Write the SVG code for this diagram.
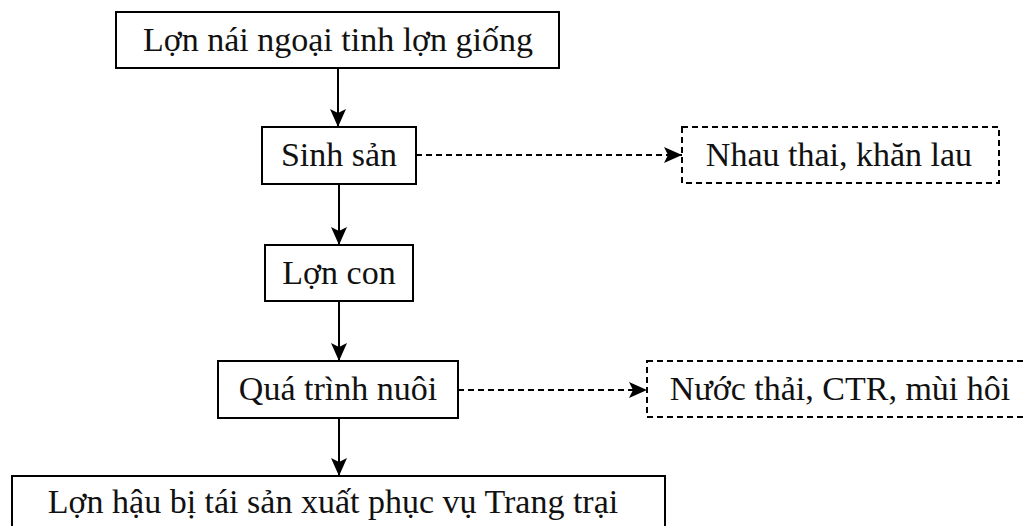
<svg xmlns="http://www.w3.org/2000/svg" width="1023" height="526" viewBox="0 0 1023 526">
<defs>
<marker id="ah" markerUnits="userSpaceOnUse" markerWidth="18" markerHeight="16" refX="18" refY="8" orient="auto" viewBox="0 0 18 16">
<path d="M0,0 L18,8 L0,16 L4,8 Z" fill="#000"/>
</marker>
<style>
.box{fill:#fff;stroke:#000;stroke-width:2}
.dbox{fill:#fff;stroke:#000;stroke-width:2;stroke-dasharray:6 4}
.t{font-family:"Liberation Serif","Times New Roman",serif;font-size:34px;fill:#111;text-anchor:middle}
.c{fill:none;stroke:#000;stroke-width:2;marker-end:url(#ah)}
.d{stroke-dasharray:6 4}
</style>
</defs>
<rect width="1023" height="526" fill="#fff"/>
<g id="connectors">
<path class="c" d="M338,68 V127"/>
<path class="c" d="M339,184 V245"/>
<path class="c" d="M339,301 V361"/>
<path class="c" d="M339,418 V476"/>
<path class="c d" d="M416,155 H682"/>
<path class="c d" d="M458,390 H647"/>
</g>
<g id="n1"><rect class="box" x="116" y="12" width="443" height="56"/><text class="t" x="338" y="51">Lợn nái ngoại tinh lợn giống</text></g>
<g id="n2"><rect class="box" x="262" y="127" width="154" height="57"/><text class="t" x="339" y="166">Sinh sản</text></g>
<g id="n3"><rect class="box" x="265" y="245" width="148" height="56"/><text class="t" x="339" y="284">Lợn con</text></g>
<g id="n4"><rect class="box" x="218" y="361" width="240" height="57"/><text class="t" x="338" y="400">Quá trình nuôi</text></g>
<g id="n5"><rect class="box" x="12" y="476" width="653" height="70"/><text class="t" x="333" y="513">Lợn hậu bị tái sản xuất phục vụ Trang trại</text></g>
<g id="n6"><rect class="dbox" x="682" y="127" width="317" height="56"/><text class="t" x="839" y="166">Nhau thai, khăn lau</text></g>
<g id="n7"><rect class="dbox" x="647" y="361" width="400" height="56"/><text class="t" x="840" y="400">Nước thải, CTR, mùi hôi</text></g>
</svg>
